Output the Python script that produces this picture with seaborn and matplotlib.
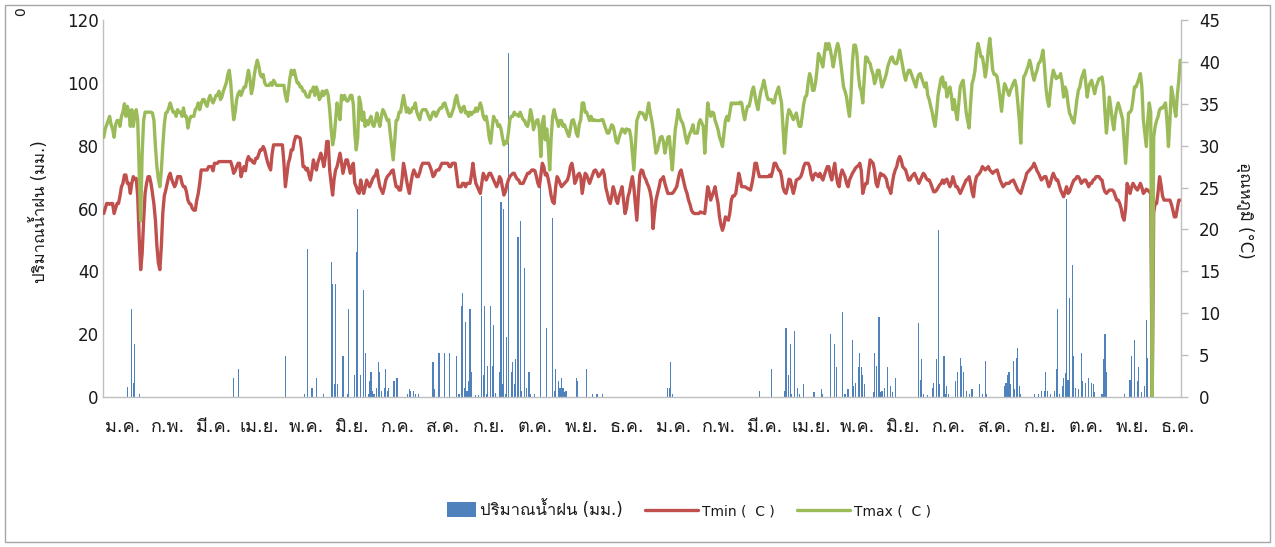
import numpy as np
import matplotlib
matplotlib.use("Agg")
import matplotlib.pyplot as plt
import seaborn as sns
from matplotlib import font_manager, ft2font
from matplotlib.lines import Line2D
from matplotlib.patches import Patch, Rectangle
from matplotlib.legend_handler import HandlerPatch

# ---- data (daily values, 2 years) ----
month_labels = ["ม.ค.", "ก.พ.", "มี.ค.", "เม.ย.", "พ.ค.", "มิ.ย.",
                "ก.ค.", "ส.ค.", "ก.ย.", "ต.ค.", "พ.ย.", "ธ.ค."] * 2

tmax = [
    # year 1
    31, 32, 32.5, 33, 33.5, 32.5, 32, 31, 32.5, 33, 33, 32.3, 33.5, 34, 35, 33.5, 34.7, 34, 32.3, 34.3, 32.3, 33.5, 34.3, 33, 27, 21, 29, 33, 34, 34, 34,
    34, 34, 33.9, 33, 29.9, 27.5, 26, 25.1, 27, 30, 32.5, 33.9, 34, 34.5, 35.1, 34.5, 34, 34, 33.5, 34.3, 34, 34, 33.5, 34.5, 33.5, 33.5, 32.1, 33,
    33.5, 33.5, 33.5, 34.3, 34.5, 35.1, 34.3, 35, 35.5, 35.5, 35, 34.7, 35.5, 36, 35.5, 35.1, 35.5, 36, 36, 36.5, 35.5, 35.8, 36.5, 37, 37.5, 38.5, 39, 37.5, 35, 33.1, 34,
    35.5, 36.2, 36.5, 36, 36.5, 37, 37, 38, 39, 38, 36.2, 37, 38.5, 39.5, 40.2, 39.5, 38.5, 38.2, 38.5, 37.5, 37.2, 37.2, 37.2, 37.5, 37.2, 37.8, 37.5, 37.2, 37.2, 37.2,
    37.2, 37.2, 37.2, 36, 35.3, 36.5, 38, 39, 38.5, 39, 38.2, 37.5, 37.5, 37, 37, 36.5, 36.5, 36, 35.8, 35.8, 36.5, 36.5, 37, 36, 37, 36.5, 35.5, 35.8, 36.5, 36, 36.5,
    36.6, 36, 34.3, 32, 30.1, 31, 33, 35.1, 34, 33.1, 36, 35.5, 36, 35.5, 35.3, 35.5, 36, 36, 35, 31.5, 29.5, 31, 35.8, 35, 33, 34, 32.3, 33, 32.5, 33.1,
    33.5, 32.5, 32.3, 33, 33.9, 33, 32.3, 33.5, 34.3, 34, 33.5, 33, 33.1, 31.5, 30, 28.3, 30.5, 33, 33.1, 34, 34, 35, 36, 35, 34, 34.5, 33.9, 34, 34.5, 34.5, 35.1,
    34, 33.5, 33.1, 34, 34.3, 34.3, 34.3, 34, 33.5, 33.1, 33.5, 34, 34, 33.5, 33.9, 34.3, 34.5, 34.5, 35, 35.1, 34.5, 34, 33.5, 33.5, 34, 34.5, 35.5, 36, 35, 34.5, 34,
    34.5, 34.7, 33.9, 34, 33.5, 34, 33.7, 34, 34, 34.5, 34.1, 34.5, 35.1, 34.5, 33.5, 33.1, 33.5, 32.5, 31, 30.3, 32, 33.5, 33, 33, 32.3, 32.5, 32, 31, 30.1, 30.5,
    30.3, 31.5, 33.1, 33.5, 33.5, 34, 33.7, 33.7, 33.5, 34, 33.5, 33.1, 33, 32.5, 32.3, 33, 34.3, 33.5, 31.9, 32.5, 33, 33.1, 32, 28.7, 32.7, 33.5, 30.7, 32, 30, 27.1, 31,
    33.5, 34.3, 33.5, 33, 32.3, 33, 33, 32.3, 32.5, 32, 31.5, 31.1, 32, 33, 33.1, 32.5, 31.5, 31.1, 32.5, 33.1, 35.1, 35.1, 34, 34, 33.5, 33, 33.5, 33, 33.1, 33,
    33, 33, 33, 33.1, 33.1, 32.5, 32, 31.5, 31.5, 32, 32.5, 32.3, 31.5, 30.5, 30.3, 31, 31.5, 32, 31.9, 31.5, 32, 31.9, 31.9, 31, 29, 27.1, 30, 33, 33.5, 34, 33.9,
    # year 2
    33.9, 33.5, 33.1, 34, 35.1, 34, 33.1, 32, 30.5, 29.1, 29.5, 30.3, 31, 31.1, 30.5, 29.1, 30, 31, 31.1, 29, 27.1, 29.5, 31.9, 33, 34.3, 33.5, 33, 32.7, 32, 31, 30.3,
    31, 31.5, 31.9, 32.5, 31.5, 31.5, 31.5, 32.7, 33.1, 32.7, 32.3, 29.1, 32, 35.1, 34, 33.5, 34, 33.9, 33, 32.5, 31.9, 31, 30.5, 29.9, 31.5, 33, 33.5, 33,
    34, 35.1, 35, 35.1, 35, 35.1, 35, 35.2, 35.1, 34, 33.1, 34, 34.7, 34.7, 35.5, 36.5, 37, 36, 35, 34.3, 35.5, 36.5, 37, 37.8, 37, 36, 35.5, 35.5, 35.5, 35.1, 35.1,
    36, 36.5, 37, 36, 35.1, 32, 29.1, 31.5, 33.5, 34.3, 34, 33.5, 33.1, 33.5, 33.9, 33, 32.3, 32.3, 33.5, 35, 35.8, 36, 37.5, 38.6, 38, 36.6, 36.6, 37.5, 39, 41,
    40.6, 40, 39.4, 41, 42.2, 41.5, 42.2, 41.5, 40.5, 39.4, 40.5, 41.5, 42.2, 41.5, 40, 38.5, 37, 36.5, 35.8, 34.5, 33.5, 36, 40, 42, 42, 41, 38.5, 37, 36.5, 35.1, 38,
    40.6, 40.5, 40, 39.8, 39, 38.5, 37.4, 38, 39, 39, 38, 37, 37.5, 38, 38.6, 39.5, 40, 40.5, 40.6, 40, 39.8, 39.8, 40.5, 41.4, 40.5, 39.5, 38.5, 37.8, 38.5, 39,
    39, 38.5, 38, 37.5, 37, 38, 38.5, 38.6, 38, 37.5, 37, 37.5, 36, 35.5, 34.7, 34, 33, 32.3, 34, 36, 37, 38, 38.2, 37, 37.5, 35.8, 36.5, 37, 36, 34.3, 35.5,
    34, 33.1, 35, 37, 37.5, 37.8, 36, 34, 33, 32.1, 35, 37.4, 38, 39, 41, 42.2, 41.5, 40.6, 40.6, 39.5, 38.2, 39.5, 41.5, 42.8, 41, 39, 38.5, 38.5, 38.2, 37, 35.5,
    34.1, 36, 37.4, 37, 36.5, 36, 36.6, 37, 37.5, 37.8, 37, 35.1, 33, 30.3, 35, 38.2, 38.5, 39, 39.5, 40.2, 39.5, 38.5, 37.8, 38.5, 39, 39.8, 40, 40.5, 41.4, 39.5,
    37, 35.5, 34.7, 36.5, 38, 39, 38.5, 38, 38.2, 38.2, 38.6, 37.5, 35.8, 37, 36.5, 35, 33.9, 33.5, 33, 32.7, 34, 35.5, 36.6, 37, 38, 38.5, 39, 37.5, 35.8, 37, 37.5,
    37.8, 37, 36.2, 37, 37.5, 38, 38, 38.2, 37, 34, 31.5, 33.5, 35.8, 34.5, 33, 31.9, 33.5, 34.5, 35.1, 34.5, 33.8, 33.1, 30.5, 27.9, 31, 33.9, 34, 34.3, 35.5, 37,
    37, 37.5, 38, 38.6, 37, 33.1, 31.5, 29.9, 33, 35.1, 34, 0, 31, 32.3, 33, 33.5, 34.3, 34.5, 34.5, 34.8, 35.1, 33, 29.9, 33, 37, 36, 34.5, 33.5, 36, 37.8, 40.2,
]

tmin = [
    # year 1
    21.9, 22.5, 23.1, 23.1, 23, 23.1, 23.1, 21.9, 22.5, 23.1, 23.1, 24, 25.1, 25.5, 26.5, 26.5, 25.5, 25.5, 24.3, 25.5, 26.3, 26, 26.1, 24, 19, 15.2, 17.1, 21, 24.3, 25.5, 26.3,
    26.3, 25.5, 24.3, 23, 21.1, 18, 16, 15.2, 18, 22, 24, 24.7, 25.5, 26.3, 26.7, 26, 25.5, 25.1, 25.5, 26.3, 26.3, 26.3, 25.5, 25.1, 25.1, 24.5, 23.5, 23.1,
    23, 22.5, 22.3, 22.3, 23.5, 24.3, 25.5, 27.1, 27.1, 27.1, 27.1, 27.1, 27.5, 27.5, 27.5, 27, 27.9, 27.9, 27.9, 28.1, 28.1, 28.1, 28.1, 28.1, 28.1, 28.1, 28.1, 28.1, 27.5, 26.7, 27,
    27.5, 27.9, 27.9, 26.3, 27, 27.5, 27, 28.2, 28.7, 28.3, 28.3, 28, 27.9, 28.5, 28.5, 29, 29.5, 29.5, 29.9, 29.5, 28.7, 28, 27.5, 27.1, 29, 30.1, 30.1, 30.1, 30.1, 30.1,
    30.1, 30.1, 28, 25.1, 26.5, 27.9, 28.5, 29.5, 29.5, 30.5, 31.1, 31.1, 31, 30.9, 29.5, 27.5, 27.5, 27.1, 27.3, 26.5, 25.9, 27, 28.3, 27.5, 27.1, 28, 28.5, 29.1, 28.5, 27.5, 28.5,
    30.5, 30.5, 27.1, 25.5, 24.1, 26, 27.1, 27.5, 28.3, 29.1, 28, 26.7, 27.5, 28.3, 28.3, 27.5, 26.7, 27.5, 27.9, 25.5, 25.1, 24.5, 24.3, 25.9, 25, 24.3, 25, 25.9, 25.5, 25.1,
    25.5, 26, 26.3, 26.5, 27.1, 26, 25.1, 24.7, 24.3, 25, 25.9, 26.3, 26.5, 26.7, 27, 27.1, 26, 25.1, 25.1, 24.7, 24.7, 26, 27.9, 27, 25.9, 25, 24.3, 25.5, 26.5, 27.1, 26.7,
    26.3, 26.3, 26.8, 27.5, 27.9, 27.9, 27.9, 27.9, 27.9, 27.5, 27, 26.3, 26.5, 27, 27.1, 27.1, 27.5, 27.9, 27.9, 27.9, 27.9, 27.9, 27.5, 27.5, 27.9, 27.9, 27.9, 26.5, 25.1, 25.1, 25.1,
    25.5, 25.5, 25.1, 25.5, 25.5, 25.5, 26.5, 27.9, 26.5, 25.5, 25.1, 24.7, 24.3, 25.5, 26.7, 26.3, 25.9, 26.3, 26.7, 26.7, 26.3, 25.9, 25.5, 25.1, 25.5, 26.3, 26, 25, 24.1, 24.5,
    25.3, 25.9, 26.3, 26.5, 26.7, 26.7, 26.3, 26, 25.9, 25.5, 25.5, 25.5, 25.9, 26.3, 26.7, 26.7, 26.9, 27.1, 27.1, 27, 26.3, 25.5, 25.1, 26.5, 27.9, 27.5, 26.5, 26.7, 26, 25.1, 24,
    23.3, 23.1, 25, 26.3, 26, 25.5, 25.1, 25.3, 25.5, 25.7, 25.9, 26.5, 27.5, 27.9, 27, 25.5, 25.9, 26.5, 26.7, 26.3, 24.3, 25.5, 26.7, 26.5, 26, 25.5, 26, 26.5, 27, 27.1,
    26.8, 26.3, 26.5, 26.8, 27.1, 26.5, 25, 24.3, 23.5, 23.1, 24, 25.1, 24.5, 23.5, 23.1, 24, 24.5, 25.1, 23.5, 21.9, 22.5, 23.9, 24.5, 25.5, 26.3, 25, 23, 21.1, 24, 26.5, 27.1,
    # year 2
    27, 26.3, 26, 25.5, 25.1, 24.5, 23.5, 20.1, 22, 23.5, 24.3, 25, 25.9, 26, 26.3, 25.5, 24.9, 24.3, 24.3, 24.3, 24.3, 24.5, 24.8, 25.1, 26, 26.8, 27.1, 26.3, 25.5, 24.8, 24.3,
    23.5, 23, 22.3, 22, 21.9, 21.9, 21.9, 21.9, 22.1, 22, 22, 21.9, 23.5, 25.1, 24.5, 23.5, 24, 24.5, 25.1, 24, 23.1, 21.5, 20.5, 19.9, 20.5, 21.5, 21.3, 21.1,
    22, 23.5, 24, 24, 24.3, 25.5, 26.7, 26, 25.1, 25.1, 25.1, 25, 24.9, 24.8, 24.7, 25.5, 26.5, 27.9, 27.9, 27, 26.3, 26.3, 26.3, 26.3, 26.3, 26.3, 26.3, 26.5, 26.3, 27, 27.9,
    27.9, 27.5, 27.1, 27, 26.3, 25, 24.5, 24.3, 25, 26, 25.9, 25, 24.3, 25, 25.9, 26, 26.1, 26.3, 26.8, 27.5, 27.9, 27.9, 27.9, 27.5, 26.5, 25.9, 26.5, 26.7, 26.5, 26.3,
    26.7, 26.2, 25.9, 26.5, 27, 27.5, 27.5, 26.5, 25.9, 27, 27.9, 26.5, 25.5, 25.1, 26.5, 27.1, 26.7, 26.3, 25.5, 25.1, 25.9, 26.3, 26.7, 27, 27.3, 27.5, 27.6, 27.9, 27, 24.3, 25,
    25.5, 25.5, 27, 28.3, 28.1, 27.9, 27, 25.5, 25.1, 26, 26.7, 26.5, 26.5, 26.3, 26, 25.1, 24.8, 24.3, 25.5, 26.5, 27.1, 27.5, 28.3, 28.7, 28.3, 27.5, 27.3, 27.1, 26.5, 25.9,
    25.9, 26.3, 26.5, 26.7, 26.3, 25.9, 25.5, 25.9, 26.3, 26.7, 26.5, 26.1, 25.9, 25.9, 25.5, 25, 24.5, 24.5, 24.7, 25, 25.3, 25.5, 25.9, 25.5, 25.9, 26, 25.5, 25.1, 25.5, 26.3, 25.7,
    25.1, 25.1, 24.7, 24.3, 24.7, 25.1, 25.5, 25.9, 26, 26.3, 25.5, 24.5, 23.9, 25.5, 26.3, 26.5, 26.7, 27, 27.5, 27.3, 27.1, 27.3, 27.5, 27.1, 26.9, 26.7, 26.9, 27, 27.1, 26.5, 25.9,
    25.5, 25.1, 25.3, 25.5, 25.5, 25.5, 25.7, 25.8, 25.9, 25.5, 25.1, 24.7, 24.5, 24.3, 24.9, 25.5, 26, 26.7, 26.9, 27.1, 27.3, 27.5, 27.9, 27.5, 27, 26.7, 26.3, 25.9, 26.1, 26.3,
    26.3, 25.7, 25.1, 25.5, 26.2, 26.7, 26.3, 25.9, 25.9, 25.3, 24.7, 24.3, 23.9, 24.5, 25.1, 24.3, 24.5, 25, 25.5, 25.9, 26, 26.3, 26.3, 26, 25.5, 25.7, 25.9, 25.9, 25.5, 25.1, 25.5,
    25.5, 25.9, 26, 26.3, 26.3, 26.3, 26, 25.9, 25, 24.5, 24.3, 24.5, 24.7, 24.7, 24.7, 24.5, 24, 23.5, 23.5, 23.1, 22.5, 21.5, 21.1, 22.5, 25.5, 25, 24.3, 25, 25.5, 25.2,
    24.9, 24.7, 25.1, 25.5, 25, 24.3, 24.5, 24.8, 24.7, 24.5, 24.3, 0, 22, 23.1, 23.1, 24.5, 26.3, 25.3, 24, 23.5, 23.5, 23.5, 23.5, 23.5, 23, 22.3, 21.5, 21.5, 22.5, 23.5, 23.5,
]

# rainy days only (day index from 1 Jan of year 1, mm)
rain_days = [
    16, 19, 20, 21, 24, 88, 91, 123, 136, 138, 141, 144, 149, 154, 155, 156, 157, 158, 162,
    165, 166, 170, 171, 172, 174, 176, 177, 179, 180, 181, 182, 183, 185, 186, 187, 188, 190,
    191, 192, 193, 196, 197, 198, 199, 206, 207, 208, 210, 211, 213, 223, 224, 227, 231, 234,
    239, 240, 241, 242, 243, 244, 245, 246, 247, 248, 249, 252, 254, 256, 257, 258, 259, 260,
    262, 263, 264, 265, 268, 269, 270, 271, 272, 273, 274, 276, 277, 278, 279, 280, 281, 282,
    283, 285, 286, 288, 289, 292, 296, 300, 304, 305, 306, 308, 309, 310, 311, 312, 313, 320,
    321, 327, 331, 334, 338, 382, 383, 384, 385,
    444, 452, 461, 462, 464, 465, 466, 468, 470, 471, 474, 481, 486, 487, 492, 495, 496, 500,
    502, 504, 507, 508, 509, 511, 512, 513, 514, 515, 521, 522, 523, 525, 526, 527, 529, 531,
    533, 534, 536, 552, 553, 554, 555, 558, 561, 562, 564, 565, 566, 569, 570, 571, 572, 577,
    578, 580, 581, 582, 584, 586, 588, 593, 595, 597, 598, 610, 611, 612, 613, 614, 616, 617,
    618, 619, 620, 621, 630, 633, 635, 637, 638, 639, 641, 644, 645, 646, 647, 649, 650, 651,
    652, 653, 654, 656, 657, 658, 660, 662, 663, 665, 667, 669, 670, 671, 676, 677, 678, 679,
    691, 695, 696, 698, 700, 701, 703, 705, 706, 707,
]
rain_mm = [
    3.3, 28, 4.5, 17, 1, 6, 9, 13, 1, 47, 3, 6, 0.8, 43, 36, 4, 36, 4, 13,
    1, 28, 7, 46, 60, 7, 34, 14, 1, 5, 8, 2, 1, 3, 11, 8, 2, 3,
    9, 2, 3, 5, 5, 6, 6, 1, 2.7, 2, 2, 1, 1, 11, 2.7, 14, 14, 14,
    13, 1, 1, 29, 33, 3, 24, 2, 5, 28, 8, 0.5, 0.5, 64, 7, 29, 1, 10,
    29, 10, 23, 1.3, 8, 62, 4, 60, 1, 19, 109.5, 8, 11, 4, 12, 51, 51, 56,
    2, 41, 3, 8, 1, 1, 73, 22, 57, 2, 9, 5, 3, 6, 3, 1.5, 2, 6,
    5, 9, 1, 1, 1, 3, 3, 11, 1,
    2, 9, 2, 22, 7, 17, 1, 21, 3, 1, 4, 1.5, 2.6, 1, 20, 17, 9.5, 27,
    1, 2.5, 18, 3.5, 4.6, 9.5, 14, 9.5, 7, 4, 1.6, 14, 10, 25.6, 1.6, 2, 3, 9.5,
    3.5, 1.6, 6, 23.5, 5.5, 12, 1, 0.5, 3, 4.6, 12, 53, 4, 13, 1, 3.5, 1, 5,
    8, 12.5, 10, 8, 2, 1, 2.5, 4, 1, 11.6, 1, 3.5, 4.5, 7, 8, 4, 11.6, 2.5,
    12.5, 15.7, 3.5, 1, 1, 1, 1.8, 1.8, 8, 1.8, 1, 2, 9, 28, 1, 3.5, 6, 7.5,
    63, 5.5, 31.6, 42, 13, 3, 2.5, 14, 5, 4.5, 6, 4.5, 4, 1.5, 1, 12, 20, 8,
    0.8, 5.5, 13, 18, 5, 9.5, 1.5, 3.5, 24.5, 12.5,
]

# ---- fonts: need a family with Thai glyphs ----
def find_thai_font():
    for f in font_manager.fontManager.ttflist:
        try:
            cmap = ft2font.FT2Font(f.fname).get_charmap()
        except Exception:
            continue
        if 0x0E1B in cmap and 0x0E21 in cmap and 0x0E19 in cmap:
            return f.name
    return None

sns.set_theme(style="white")
thai = find_thai_font()
families = ["DejaVu Sans"] + ([thai] if thai else [])
plt.rcParams["font.family"] = families

RAIN_C = "#4F81BD"
TMIN_C = "#C0504D"
TMAX_C = "#9BBB59"
AXIS_C = "#BFBFBF"
TEXT_C = "#1a1a1a"

days = np.arange(len(tmax))
rain = np.zeros(len(tmax))
rain[rain_days] = rain_mm

fig = plt.figure(figsize=(12.75, 5.47), dpi=100)
ax = fig.add_axes([103 / 1275, 1 - 397 / 547, (1181 - 103) / 1275, (397 - 20) / 547])
ax2 = ax.twinx()

ax.bar(days, rain, width=0.75, color=RAIN_C, linewidth=0)
sns.lineplot(x=days, y=tmin, ax=ax2, color=TMIN_C, linewidth=2.4, estimator=None)
sns.lineplot(x=days, y=tmax, ax=ax2, color=TMAX_C, linewidth=2.4, estimator=None)

ax.set_xlim(-0.5, len(tmax) - 0.5)
ax.set_ylim(0, 120)
ax2.set_ylim(0, 45)
ax.set_yticks(np.arange(0, 121, 20))
ax2.set_yticks(np.arange(0, 46, 5))

# month labels every ~31 days
ax.set_xticks(12.5 + 31.1 * np.arange(len(month_labels)))
ax.set_xticklabels(month_labels, fontsize=13)

for a in (ax, ax2):
    for s in a.spines.values():
        s.set_color(AXIS_C)
        s.set_linewidth(1)
    a.spines["top"].set_visible(False)
ax.spines["right"].set_visible(False)
ax2.spines["left"].set_visible(False)
ax2.spines["bottom"].set_visible(False)

ax.tick_params(axis="y", length=0, pad=3, labelsize=12, labelcolor=TEXT_C)
ax.tick_params(axis="x", length=0, pad=15, labelcolor=TEXT_C)
ax2.tick_params(axis="y", length=5, width=1, color=AXIS_C, pad=8,
                labelsize=12, labelcolor=TEXT_C)
ax.set_xlabel("")
ax2.set_xlabel("")
ax2.set_ylabel("")

fig.text(40 / 1275, 1 - 212 / 547, "ปริมาณน้ำฝน (มม.)", rotation=90,
         ha="center", va="center", fontsize=12, color=TEXT_C)
fig.text(1245 / 1275, 1 - 210 / 547, "อุณหภูมิ (°C)", rotation=270,
         ha="center", va="center", fontsize=12, color=TEXT_C)
fig.text(21 / 1275, 1 - 12 / 547, "0", rotation=90, ha="center", va="center",
         fontsize=10, color=TEXT_C)


# Excel-style legend: short key for the bars, longer keys for the lines
def short_rect(legend, orig_handle, xdescent, ydescent, width, height, fontsize):
    return Rectangle((-xdescent + width * 0.46, -ydescent - 1), width * 0.54, height + 2)


handles = [Patch(facecolor=RAIN_C, edgecolor="none"),
           Line2D([], [], color=TMIN_C, lw=2.4),
           Line2D([], [], color=TMAX_C, lw=2.4)]
leg = fig.legend(handles, ["ปริมาณน้ำฝน (มม.)", "Tmin (  C )", "Tmax (  C )"],
                 loc="center", bbox_to_anchor=(677 / 1275, 1 - 510 / 547), ncol=3,
                 frameon=False, fontsize=12, handlelength=3.2, handletextpad=0.25,
                 columnspacing=1.3,
                 handler_map={Patch: HandlerPatch(patch_func=short_rect)})
for t in leg.get_texts()[1:]:
    t.set_fontsize(10)
for t in leg.get_texts():
    t.set_color(TEXT_C)

fig.patches.append(Rectangle((5 / 1275, 5 / 547), 1265 / 1275, 537 / 547,
                             transform=fig.transFigure, fill=False,
                             edgecolor="#A6A6A6", linewidth=1))

fig.savefig("out.png", dpi=100)
